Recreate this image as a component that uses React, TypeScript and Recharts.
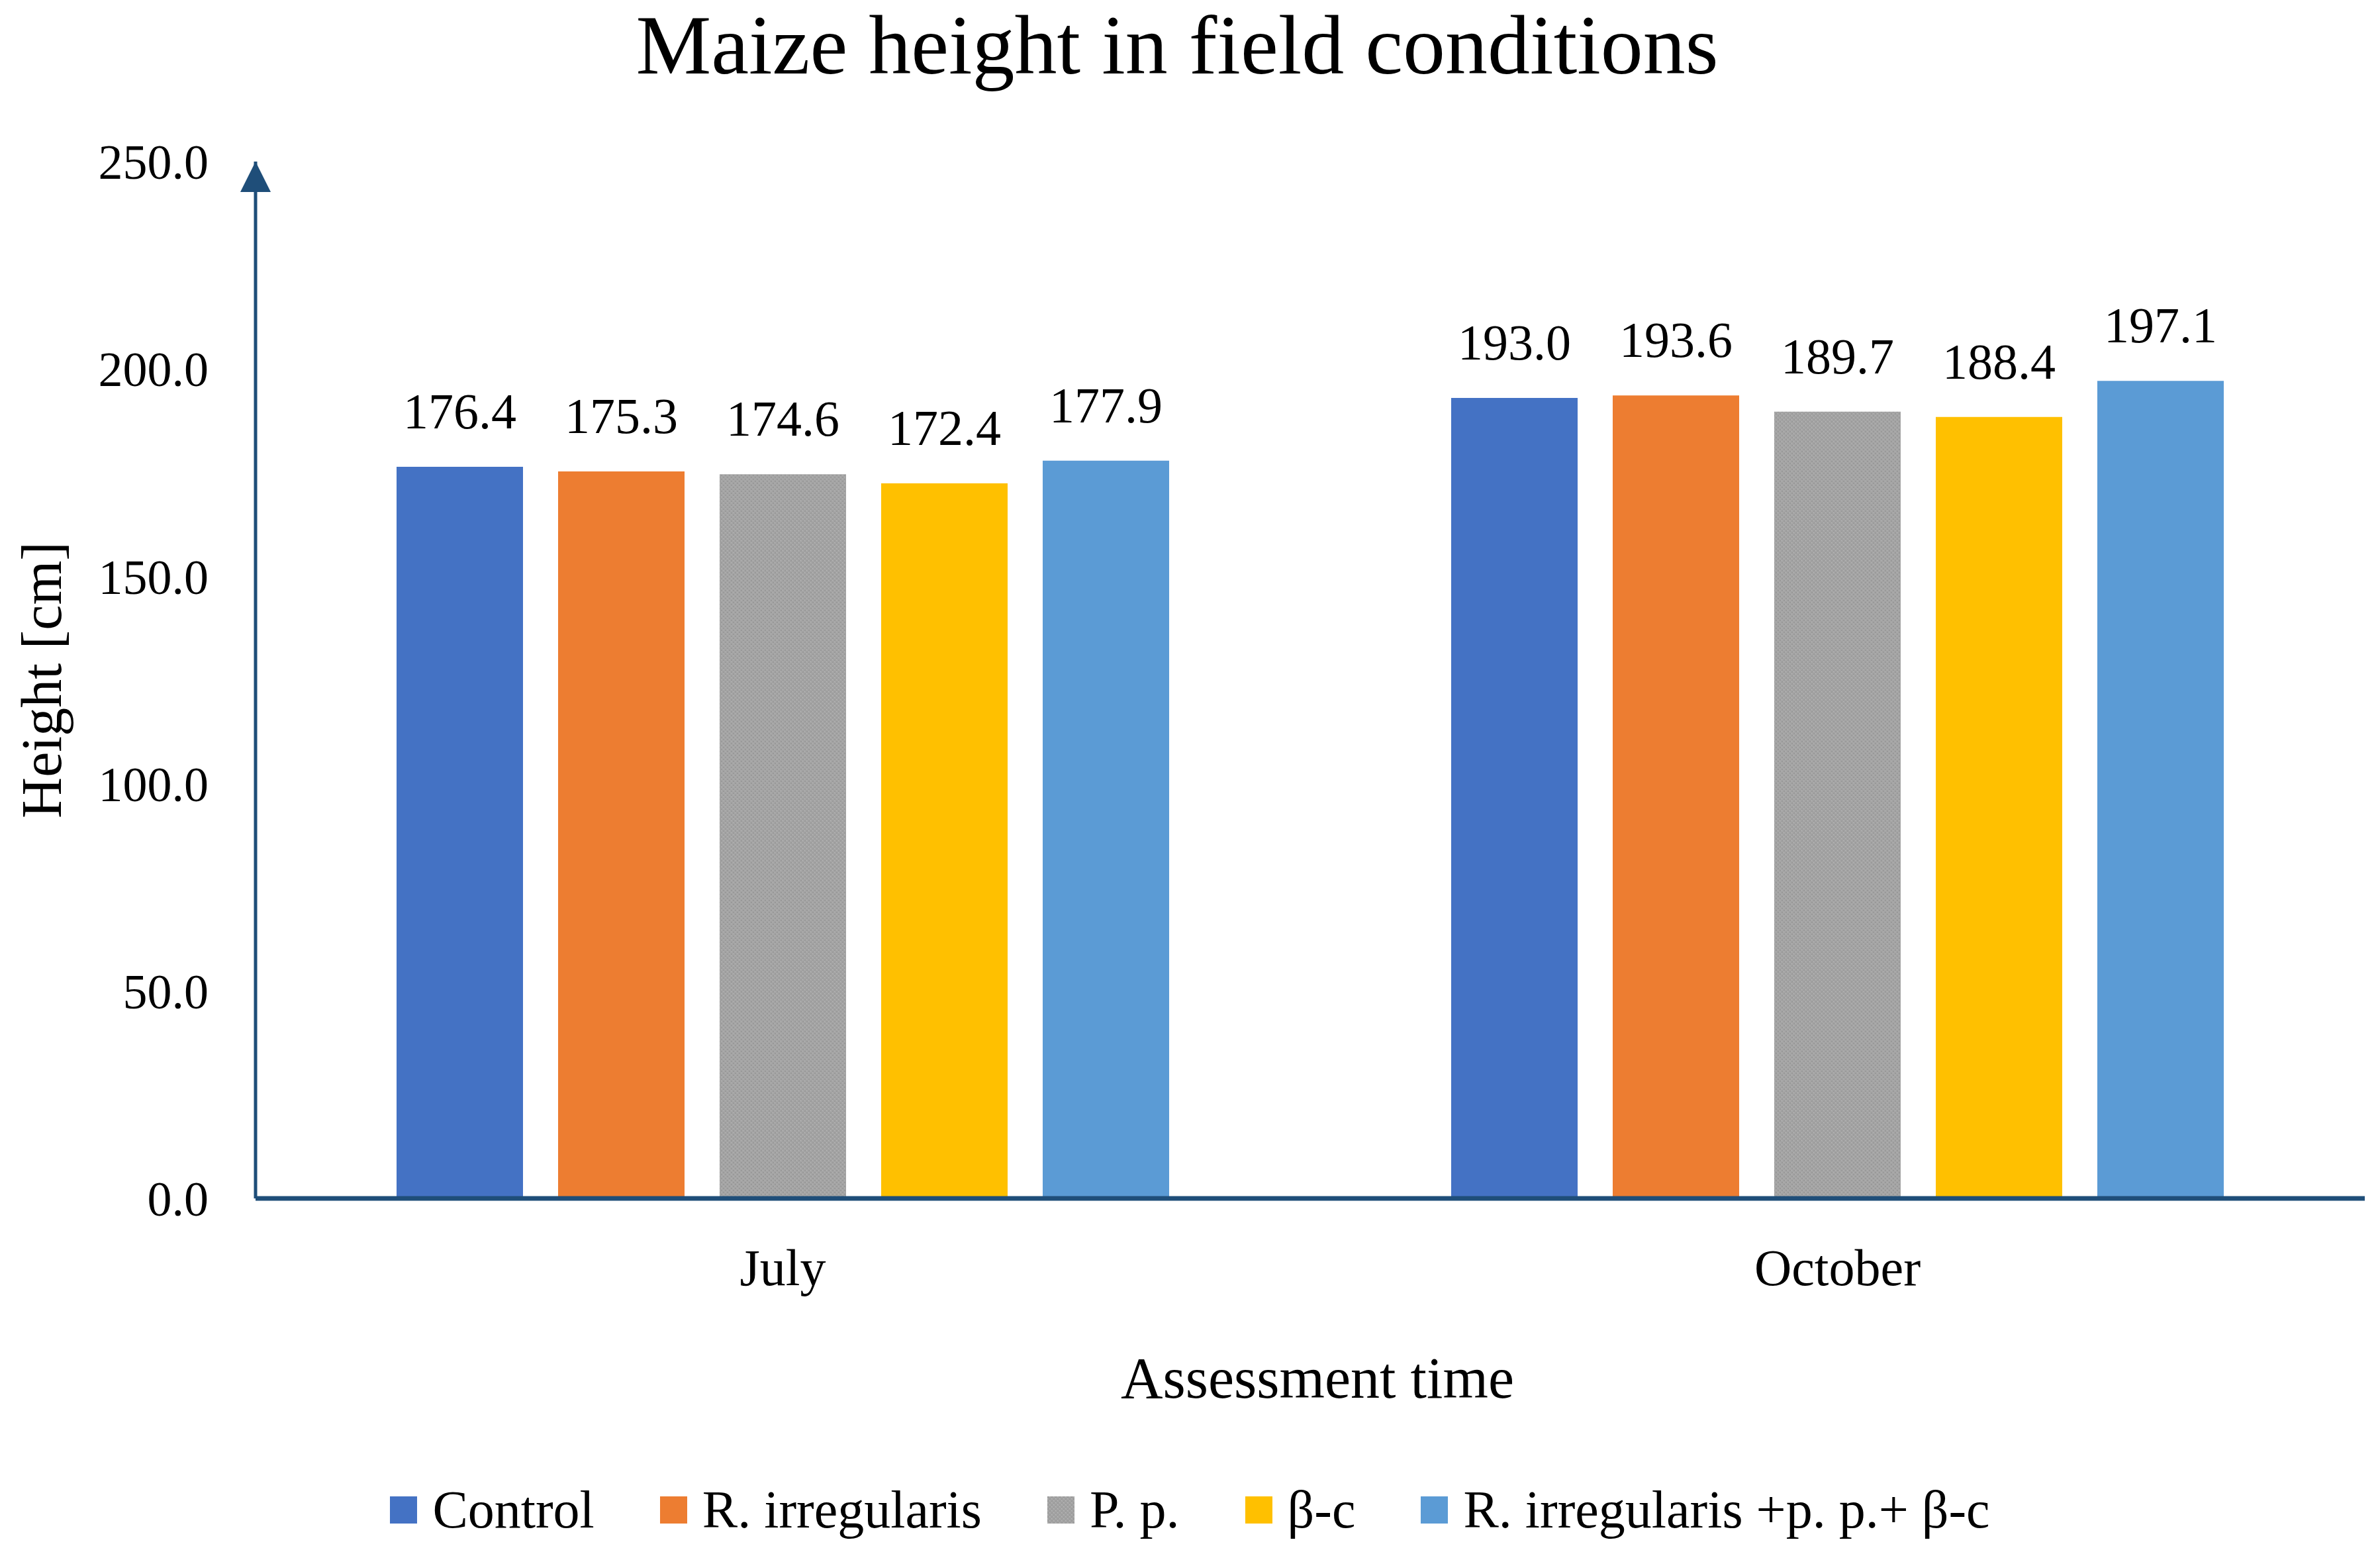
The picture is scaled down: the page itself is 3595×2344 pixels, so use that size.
import React from 'react';
import { BarChart, Bar, XAxis, YAxis, LabelList, Legend } from 'recharts';

const categories = ['July', 'October'];
const seriesNames = ['Control', 'R. irregularis', 'P. p.', 'β-c', 'R. irregularis +p. p.+ β-c'];
const control = [176.4, 193.0];
const rIrregularis = [175.3, 193.6];
const pp = [174.6, 189.7];
const betaC = [172.4, 188.4];
const combined = [177.9, 197.1];
const yTicks = [0, 50, 100, 150, 200, 250];

const seriesValues = [control, rIrregularis, pp, betaC, combined];
const keys = ['control', 'rIrregularis', 'pp', 'betaC', 'combined'];
const fills = ['#4472C4', '#ED7D31', 'url(#grayTexture)', '#FFC000', '#5B9BD5'];

const data = categories.map((name, i) => {
  const row: Record<string, string | number> = { name };
  keys.forEach((k, j) => {
    row[k] = seriesValues[j][i];
  });
  return row;
});

const FONT = '"Liberation Serif", "Times New Roman", serif';
const AXIS_COLOR = '#1F4E79';

const renderYLabel = (props: any) => {
  const { viewBox } = props;
  const cy = viewBox.y + viewBox.height / 2;
  return (
    <text
      x={92}
      y={cy}
      transform={`rotate(-90, 92, ${cy})`}
      textAnchor="middle"
      fontFamily={FONT}
      fontSize={86}
      fill="#000"
    >
      Height [cm]
    </text>
  );
};

const renderXLabel = (props: any) => {
  const { viewBox } = props;
  return (
    <text
      x={viewBox.x + viewBox.width / 2 + 11}
      y={viewBox.y + 301}
      textAnchor="middle"
      fontFamily={FONT}
      fontSize={88}
      fill="#000"
    >
      Assessment time
    </text>
  );
};

// legend keeps the series order (the library sorts its payload by name)
const renderLegend = () => (
  <div
    style={{
      display: 'flex',
      justifyContent: 'center',
      alignItems: 'center',
      height: 100,
      fontFamily: FONT,
      fontSize: 80,
      color: '#000',
    }}
  >
    {seriesNames.map((name, i) => (
      <div
        key={`legend-${i}`}
        style={{ display: 'flex', alignItems: 'center', marginRight: i < seriesNames.length - 1 ? 99 : 0 }}
      >
        <svg width={41} height={41} style={{ marginRight: 23 }}>
          <rect width={41} height={41} fill={fills[i]} />
        </svg>
        <span>{name}</span>
      </div>
    ))}
  </div>
);

export default function App() {
  return (
    <div style={{ position: 'absolute', left: 0, top: 0, width: 3595, height: 2344, background: '#fff' }}>
      <svg width={0} height={0} style={{ position: 'absolute' }}>
        <defs>
          <pattern id="grayTexture" width={6} height={6} patternUnits="userSpaceOnUse">
            <rect width={6} height={6} fill="#A5A5A5" />
            <rect x={0} y={0} width={2} height={2} fill="#999999" />
            <rect x={3} y={3} width={2} height={2} fill="#999999" />
            <rect x={3} y={0} width={1} height={1} fill="#B6B6B6" />
            <rect x={0} y={3} width={1} height={1} fill="#B6B6B6" />
          </pattern>
          <marker
            id="axisArrow"
            viewBox="0 0 46 46"
            markerWidth={46}
            markerHeight={46}
            markerUnits="userSpaceOnUse"
            refX={23}
            refY={0}
            orient="0"
          >
            <path d="M0,46 L23,0 L46,46 Z" fill={AXIS_COLOR} />
          </marker>
        </defs>
      </svg>
      <div
        style={{
          position: 'absolute',
          left: 0,
          top: 4,
          width: 3556,
          textAlign: 'center',
          fontFamily: FONT,
          fontSize: 128,
          lineHeight: 1,
          color: '#000',
        }}
      >
        Maize height in field conditions
      </div>
      <BarChart
        width={3595}
        height={2344}
        data={data}
        margin={{ top: 244, right: 23, bottom: 14, left: 0 }}
        barSize={191}
        barGap={53}
      >
        <XAxis
          dataKey="name"
          height={420}
          tickLine={false}
          tickMargin={70}
          axisLine={{ stroke: AXIS_COLOR, strokeWidth: 7 }}
          tick={{ fontFamily: FONT, fontSize: 78, fill: '#000' }}
          label={renderXLabel}
        />
        <YAxis
          width={386}
          domain={[0, 250]}
          ticks={yTicks}
          interval={0}
          tickLine={false}
          tickMargin={65}
          tickFormatter={(v: number) => v.toFixed(1)}
          axisLine={{ stroke: AXIS_COLOR, strokeWidth: 5, markerStart: 'url(#axisArrow)' }}
          tick={{ fontFamily: FONT, fontSize: 74, fill: '#000' }}
          label={renderYLabel}
        />
        <Legend verticalAlign="bottom" content={renderLegend} wrapperStyle={{ left: 0, width: 3595 }} />
        {keys.map((k, i) => (
          <Bar key={k} dataKey={k} name={seriesNames[i]} fill={fills[i]} isAnimationActive={false}>
            <LabelList
              dataKey={k}
              position="top"
              offset={58}
              formatter={(v: any) => Number(v).toFixed(1)}
              style={{ fontFamily: FONT, fontSize: 76, fill: '#000' }}
            />
          </Bar>
        ))}
      </BarChart>
    </div>
  );
}
